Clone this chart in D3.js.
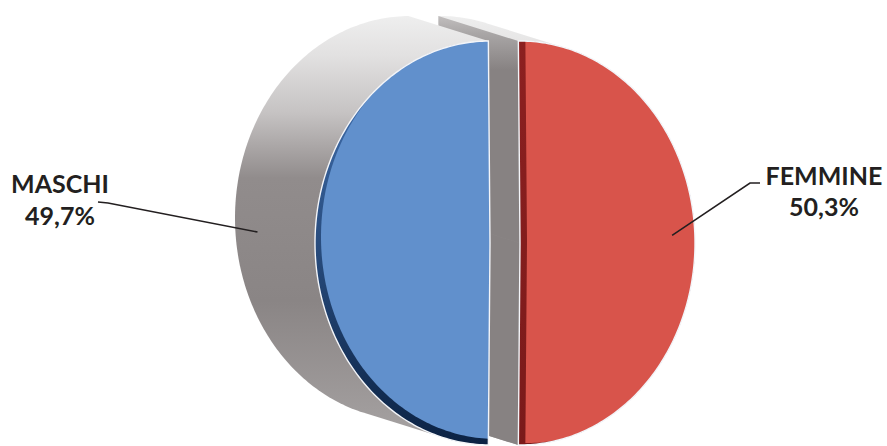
<!DOCTYPE html>
<html>
<head>
<meta charset="utf-8">
<script src="https://cdn.jsdelivr.net/npm/d3@7"></script>
<style>
  html, body { margin: 0; padding: 0; background: #fff; }
  svg { display: block; }
  text { font-family: "Lato", "Open Sans", sans-serif; font-weight: 700; fill: #231f20; }
</style>
</head>
<body>
<svg id="chart" width="887" height="446"></svg>
<script>
// ---- data ----
const categories = ["MASCHI", "FEMMINE"];
const values = [49.7, 50.3];
const valueLabels = ["49,7%", "50,3%"];
const colors = ["#6190cc", "#d8544b"];
const bevelColors = [["#4677b9", "#0b2243"], ["#8c2020", "#7a1a1a"]];

// ---- layout ----
const W = 887, H = 446;
const cx0 = 505, cy0 = 243, rx = 175, ry = 202;
const explode = 15;
const depth = { x: -80, y: -25 };
const bevelShift = [{ x: 6, y: -6 }, { x: 7, y: -2 }];
const labelLayout = [
  { x: 60, y1: 193, y2: 225, line: [[98, 202], [108, 203]], tip: { angle: 268, r: 1.0, t: 0.72 } },
  { x: 824, y1: 185, y2: 216, line: [[760, 183], [750, 183]], tip: { angle: 87.5, r: 0.87, t: 0 } }
];

const svg = d3.select("#chart");
const defs = svg.append("defs");

// gradients
const sideGrad = defs.append("linearGradient").attr("id", "sideGrad")
  .attr("gradientUnits", "userSpaceOnUse").attr("x1", 0).attr("y1", 14).attr("x2", 0).attr("y2", 424);
[[0, "#efefef"], [0.1, "#e2e1e1"], [0.24, "#c6c3c3"], [0.4, "#918c8c"], [0.7, "#8a8585"], [1, "#a39f9f"]]
  .forEach(([o, c]) => sideGrad.append("stop").attr("offset", o).attr("stop-color", c));

const radGrad = defs.append("linearGradient").attr("id", "radGrad")
  .attr("gradientUnits", "userSpaceOnUse").attr("x1", 0).attr("y1", 14).attr("x2", 0).attr("y2", 70);
[[0, "#c4c1c1"], [0.35, "#a9a6a6"], [1, "#878282"]]
  .forEach(([o, c]) => radGrad.append("stop").attr("offset", o).attr("stop-color", c));

bevelColors.forEach((bc, i) => {
  const g = defs.append("linearGradient").attr("id", "bevel" + i)
    .attr("gradientUnits", "userSpaceOnUse").attr("x1", 0).attr("y1", 40).attr("x2", 0).attr("y2", 446);
  g.append("stop").attr("offset", 0).attr("stop-color", bc[0]);
  g.append("stop").attr("offset", 1).attr("stop-color", bc[1]);
});

// pie angles (clockwise from top), split centred on the vertical
const total = d3.sum(values);
const offset = (Math.PI - 2 * Math.PI * values[0] / total) / 2;
const pie = d3.pie().sort(null).startAngle(Math.PI + offset).endAngle(3 * Math.PI + offset);
const arcs = pie(values);

// projection
const xScale = d3.scaleLinear().domain([-1, 1]).range([-rx, rx]);
const yScale = d3.scaleLinear().domain([-1, 1]).range([-ry, ry]);

function centerOf(a) {
  const m = (a.startAngle + a.endAngle) / 2;
  return { x: cx0 + explode * Math.sin(m), y: cy0 - explode * Math.cos(m) * ry / rx };
}
function pt(c, ang, r, t) {
  return [c.x + xScale(r * Math.sin(ang)) + depth.x * t, c.y - yScale(r * Math.cos(ang)) + depth.y * t];
}
function wedge(c, a0, a1, t, shift) {
  const s = shift || { x: 0, y: 0 };
  const cc = { x: c.x + s.x, y: c.y + s.y };
  const pts = [[cc.x + depth.x * t, cc.y + depth.y * t]];
  const n = Math.max(8, Math.ceil((a1 - a0) / (Math.PI / 180)));
  for (let k = 0; k <= n; k++) pts.push(pt(cc, a0 + (a1 - a0) * k / n, 1, t));
  return pts;
}
const line = d3.line();

// draw FEMMINE first (right, behind), then MASCHI
const order = d3.range(arcs.length).reverse();
order.forEach(i => {
  const a = arcs[i];
  const c = centerOf(a);
  const g = svg.append("g").attr("class", "slice-" + i);
  const front = wedge(c, a.startAngle, a.endAngle, 0);
  const back = wedge(c, a.startAngle, a.endAngle, 1);
  // curved side (hull of front + back faces)
  const hull = d3.polygonHull(front.concat(back));
  g.append("path").attr("d", line(hull) + "Z").attr("fill", "url(#sideGrad)");
  // radial cut faces, only when facing the viewer
  [[a.startAngle, -1], [a.endAngle, 1]].forEach(([ang, sgn]) => {
    const nx = sgn * Math.cos(ang), ny = sgn * Math.sin(ang);
    if (nx * depth.x + ny * depth.y > 0) {
      const f0 = [c.x, c.y], f1 = pt(c, ang, 1, 0), b1 = pt(c, ang, 1, 1), b0 = [c.x + depth.x, c.y + depth.y];
      g.append("path").attr("d", line([f0, f1, b1, b0]) + "Z").attr("fill", "url(#radGrad)");
    }
  });
  // front face: bevel + face
  const clipId = "clip" + i;
  defs.append("clipPath").attr("id", clipId).append("path").attr("d", line(front) + "Z");
  g.append("path").attr("d", line(front) + "Z").attr("fill", "url(#bevel" + i + ")");
  g.append("path").attr("d", line(wedge(c, a.startAngle, a.endAngle, 0, bevelShift[i])) + "Z")
    .attr("fill", colors[i]).attr("clip-path", "url(#" + clipId + ")");
  g.append("path").attr("d", line(front) + "Z").attr("fill", "none")
    .attr("stroke", "#f3f5f9").attr("stroke-width", 1.4);
});

// labels + leaders
arcs.forEach((a, i) => {
  const L = labelLayout[i];
  const c = centerOf(a);
  const tip = pt(c, L.tip.angle * Math.PI / 180, L.tip.r, L.tip.t);
  svg.append("path").attr("d", line([L.line[0], L.line[1], tip]))
    .attr("fill", "none").attr("stroke", "#231f20").attr("stroke-width", 1.6);
  svg.append("text").attr("x", L.x).attr("y", L.y1).attr("text-anchor", "middle")
    .attr("font-size", 25).text(categories[i]);
  svg.append("text").attr("x", L.x).attr("y", L.y2).attr("text-anchor", "middle")
    .attr("font-size", 25).text(valueLabels[i]);
});
</script>
</body>
</html>
